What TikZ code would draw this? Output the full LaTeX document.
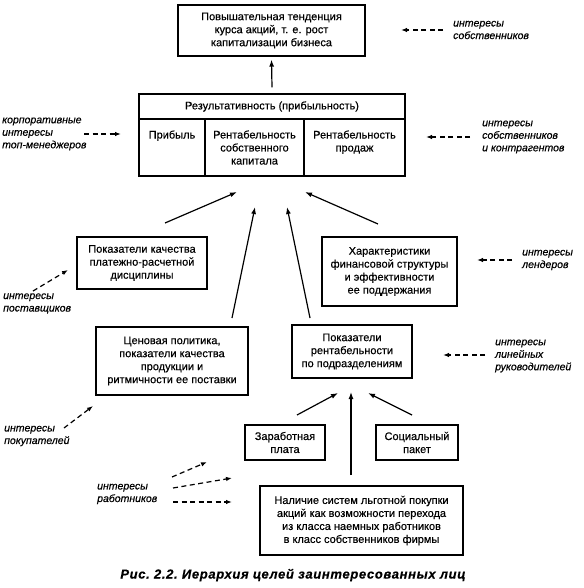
\documentclass[tikz,border=0pt]{standalone}
\usepackage{fontspec}
\setmainfont{Liberation Sans}[FakeBold=0.4]
\usetikzlibrary{arrows.meta}
\begin{document}
\begin{tikzpicture}[x=1pt,y=-1pt,
  box/.style={draw, line width=1.2pt, align=center, inner sep=0pt, font=\fontsize{11}{13}\selectfont},
  lbl/.style={align=left, anchor=west, inner sep=0pt, font=\fontsize{10.5}{12.5}\selectfont\itshape},
  arr/.style={line width=1.2pt, -{Latex[length=7pt,width=5pt]}},
  darr/.style={line width=1.2pt, dash pattern=on 5pt off 3.5pt, -{Latex[length=6pt,width=4.5pt]}}]
\useasboundingbox (0,0) rectangle (583,588);

% boxes
\node[box, minimum width=187, minimum height=51] (top) at (271.5,30.5) {Повышательная тенденция\\курса акций, т. е. рост\\капитализации бизнеса};
\node[box, minimum width=266, minimum height=25] (hdr) at (272,106.5) {Результативность (прибыльность)};
\node[box, minimum width=66, minimum height=57] (c1) at (172,147.5) {Прибыль\\ \mbox{}\\ \mbox{}};
\node[box, minimum width=99, minimum height=57] (c2) at (254.5,147.5) {Рентабельность\\собственного\\капитала};
\node[box, minimum width=101, minimum height=57] (c3) at (354.5,147.5) {Рентабельность\\продаж\\ \mbox{}};
\node[box, minimum width=130, minimum height=52] (pk) at (142,263) {Показатели качества\\платежно-расчетной\\дисциплины};
\node[box, minimum width=135, minimum height=69] (fin) at (389.5,271.5) {Характеристики\\финансовой структуры\\и эффективности\\ее поддержания};
\node[box, minimum width=152, minimum height=68] (cen) at (172,361) {Ценовая политика,\\показатели качества\\продукции и\\ритмичности ее поставки};
\node[box, minimum width=120, minimum height=53] (rp) at (352,351.5) {Показатели\\рентабельности\\по подразделениям};
\node[box, minimum width=80, minimum height=35] (zp) at (285,442.5) {Заработная\\плата};
\node[box, minimum width=82, minimum height=35] (sp) at (417,442.5) {Социальный\\пакет};
\node[box, minimum width=203, minimum height=69] (ak) at (361.5,520.5) {Наличие систем льготной покупки\\акций как возможности перехода\\из класса наемных работников\\в класс собственников фирмы};

% labels
\node[lbl] (lOwn) at (453,30) {интересы\\собственников};
\node[lbl] (lTop) at (2,134) {корпоративные\\интересы\\топ-менеджеров};
\node[lbl] (lOwnK) at (482,137) {интересы\\собственников\\и контрагентов};
\node[lbl] (lPost) at (3,303.5) {интересы\\поставщиков};
\node[lbl] (lLend) at (522,260) {интересы\\лендеров};
\node[lbl] (lPok) at (4,436) {интересы\\покупателей};
\node[lbl] (lLin) at (495,356) {интересы\\линейных\\руководителей};
\node[lbl] (lRab) at (97,494) {интересы\\работников};

\node[inner sep=0pt, font=\fontsize{13}{15}\selectfont\bfseries\itshape\addfontfeature{LetterSpace=5}] (cap) at (293,575) {Рис.~2.2.~Иерархия целей заинтересованных лиц};

% solid arrows
\draw[arr] ([yshift=6pt]hdr.north) -- ([yshift=-3pt]top.south);
\coordinate (a1s) at (165,223); \coordinate (a1e) at (237,192);
\coordinate (a2s) at (378,224); \coordinate (a2e) at (305,192);
\coordinate (a3s) at (232,318); \coordinate (a3e) at (255,207);
\coordinate (a4s) at (310,318); \coordinate (a4e) at (287,207);
\draw[arr] (a1s) -- (a1e);
\draw[arr] (a2s) -- (a2e);
\draw[arr] (a3s) -- (a3e);
\draw[arr] (a4s) -- (a4e);
\coordinate (b1s) at (297,415); \coordinate (b1e) at (338,393);
\coordinate (b2s) at (412,415); \coordinate (b2e) at (368,393);
\coordinate (b3s) at (351,475); \coordinate (b3e) at (351,392);
\draw[arr] (b1s) -- (b1e);
\draw[arr] (b2s) -- (b2e);
\draw[arr] (b3s) -- (b3e);

% dashed arrows
\coordinate (d1s) at (443,30); \coordinate (d1e) at (401,30);
\coordinate (d2s) at (84,134); \coordinate (d2e) at (121,134);
\coordinate (d3s) at (470,137); \coordinate (d3e) at (426,137);
\coordinate (d4s) at (33,291); \coordinate (d4e) at (68,270);
\coordinate (d5s) at (512,260); \coordinate (d5e) at (477,260);
\coordinate (d6s) at (64,428); \coordinate (d6e) at (93,406);
\coordinate (d7s) at (485,355); \coordinate (d7e) at (443,355);
\coordinate (d8s) at (172,477); \coordinate (d8e) at (207,462);
\coordinate (d9s) at (173,488); \coordinate (d9e) at (232,478);
\coordinate (d10s) at (173,502); \coordinate (d10e) at (232,502);
\foreach \i in {1,...,10} {\draw[darr] (d\i s) -- (d\i e);}
\end{tikzpicture}
\end{document}
